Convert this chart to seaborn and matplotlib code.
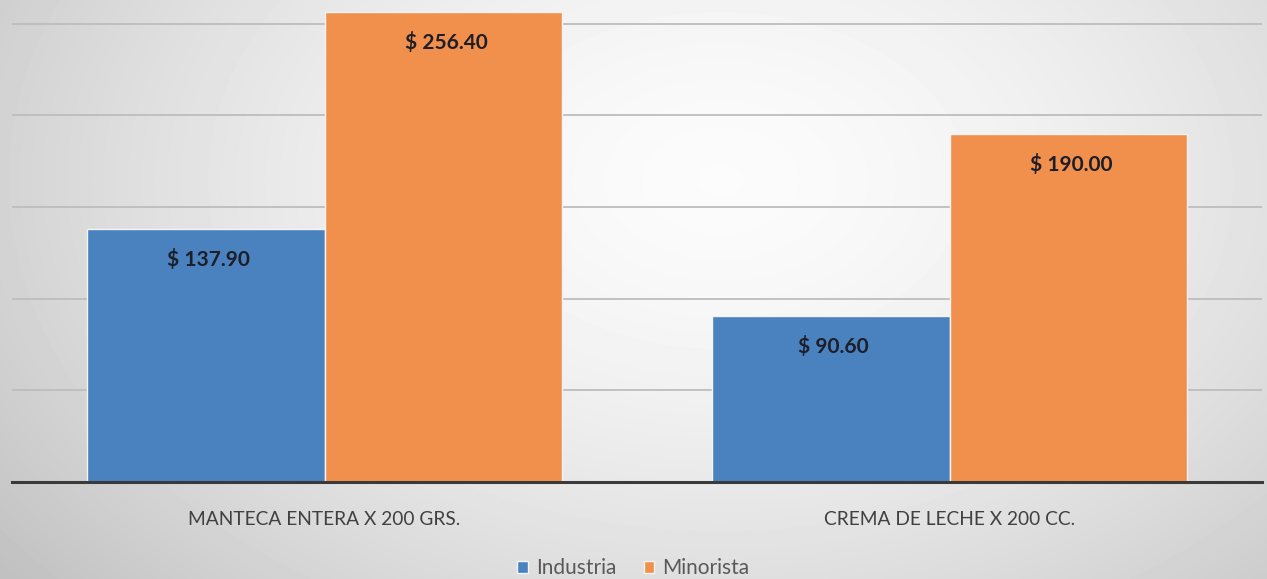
import numpy as np
import pandas as pd
import matplotlib
matplotlib.use('Agg')
import matplotlib.pyplot as plt
import seaborn as sns

# Datos
productos = ['MANTECA ENTERA X 200 GRS.', 'CREMA DE LECHE X 200 CC.']
industria = [137.90, 90.60]
minorista = [256.40, 190.00]
series = ['Industria', 'Minorista']
colores = ['#4a82c0', '#f0904c']

df = pd.DataFrame({
    'Producto': productos * 2,
    'Precio': industria + minorista,
    'Tipo': [series[0]] * len(productos) + [series[1]] * len(productos),
})

sns.set_theme(style='white')
plt.rcParams['font.family'] = ['Lato', 'DejaVu Sans']

fig = plt.figure(figsize=(12.67, 5.79), dpi=100)

# fondo con degradado radial
bg = fig.add_axes([0, 0, 1, 1], zorder=-5)
h, w = 579, 1267
yy, xx = np.mgrid[0:h, 0:w]
r = np.sqrt(((xx - 720) / 760.0) ** 2 + ((yy - 180) / 520.0) ** 2)
img = 0.985 - 0.17 * np.clip(r, 0, 1.2) ** 1.6
bg.imshow(img, cmap='gray', vmin=0, vmax=1, aspect='auto', interpolation='bilinear')
bg.axis('off')

ax = fig.add_axes([12 / 1267, 97 / 579, 1250 / 1267, 482 / 579])
ax.set_facecolor('none')

sns.barplot(data=df, x='Producto', y='Precio', hue='Tipo', palette=colores,
            saturation=1, width=0.76, edgecolor='#f4f4f4', linewidth=1,
            ax=ax, zorder=3)

ax.set_ylim(0, 263)
ax.set_xlim(-0.5, 1.5)
ax.set_yticks([0, 50, 100, 150, 200, 250])
ax.yaxis.grid(True, color='#bdbdbd', linewidth=1.3, zorder=0)
ax.set_axisbelow(True)
ax.set_yticklabels([])
ax.set_xlabel('')
ax.set_ylabel('')
ax.tick_params(axis='both', length=0)
ax.tick_params(axis='x', pad=21, labelsize=13.8, labelcolor='#404040')

for s in ['top', 'left', 'right']:
    ax.spines[s].set_visible(False)
ax.spines['bottom'].set_color('#3a3a3a')
ax.spines['bottom'].set_linewidth(2.2)
ax.spines['bottom'].set_zorder(5)

# etiquetas de valores
for cont in ax.containers:
    for bar in cont:
        v = bar.get_height()
        ax.annotate(f'$ {v:.2f}', (bar.get_x() + bar.get_width() / 2, v),
                    xytext=(2, -22), textcoords='offset points',
                    ha='center', va='center', fontsize=15, fontweight='bold',
                    color='#1e1e28', zorder=6)

handles, labels = ax.get_legend_handles_labels()
ax.get_legend().remove()
fig.legend(handles, labels, loc='center', bbox_to_anchor=(0.5, 11 / 579), ncol=2,
           frameon=False, fontsize=15, labelcolor='#595959',
           handlelength=0.5, handleheight=0.5, handletextpad=0.4, columnspacing=1.3)

fig.savefig('out.png', dpi=100)
